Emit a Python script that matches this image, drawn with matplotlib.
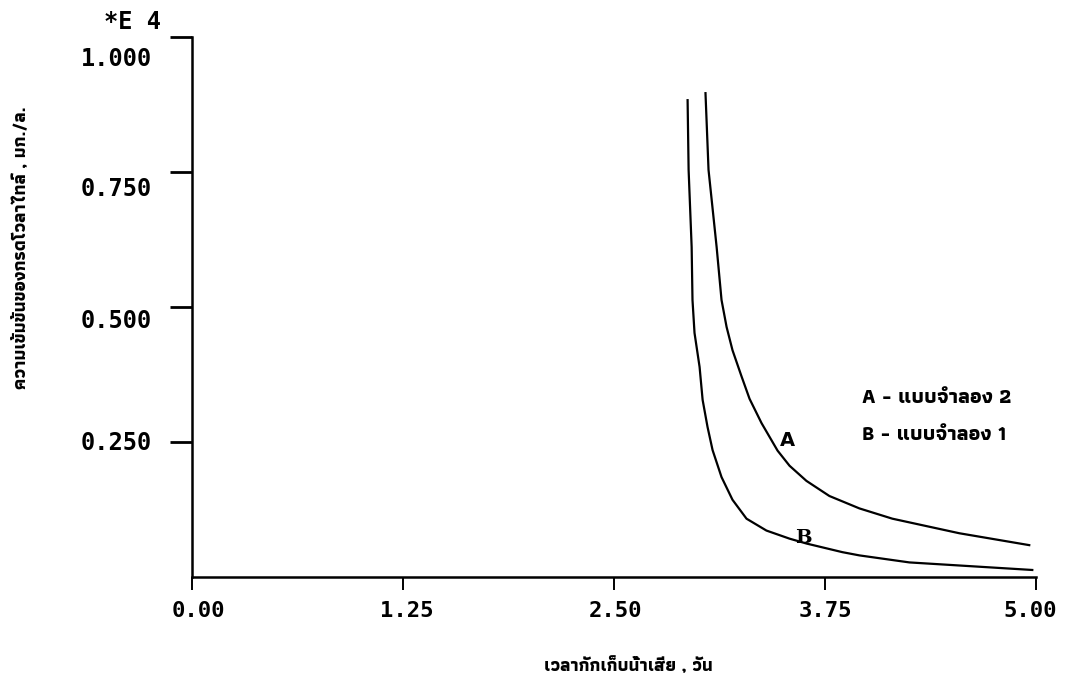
import matplotlib
matplotlib.use("Agg")
import matplotlib.pyplot as plt
from matplotlib.transforms import ScaledTranslation

# ---- data ----
x_ticks = [0.00, 1.25, 2.50, 3.75, 5.00]
x_tick_labels = ["0.00", "1.25", "2.50", "3.75", "5.00"]
y_ticks = [0.25, 0.50, 0.75, 1.00]
y_tick_labels = ["0.250", "0.500", "0.750", "1.000"]

# Curve A (แบบจำลอง 2)
a_x = [3.042, 3.060, 3.108, 3.137, 3.167, 3.202, 3.255, 3.303, 3.374, 3.469, 3.540,
       3.640, 3.776, 3.954, 4.149, 4.546, 4.960]
a_y = [0.896, 0.754, 0.611, 0.513, 0.463, 0.420, 0.372, 0.330, 0.285, 0.234, 0.206,
       0.178, 0.150, 0.127, 0.108, 0.081, 0.059]
# Curve B (แบบจำลอง 1)
b_x = [2.936, 2.942, 2.960, 2.965, 2.977, 3.007, 3.025, 3.054, 3.084, 3.137, 3.202,
       3.285, 3.403, 3.540, 3.640, 3.853, 3.954, 4.250, 4.978]
b_y = [0.883, 0.754, 0.611, 0.513, 0.452, 0.389, 0.328, 0.278, 0.235, 0.185, 0.143,
       0.108, 0.086, 0.071, 0.062, 0.046, 0.040, 0.027, 0.013]

legend_lines = ["A - แบบจำลอง 2", "B - แบบจำลอง 1"]
x_label = "เวลากักเก็บน้ำเสีย , วัน"
y_label = "ความเข้มข้นของกรดโวลาไทล์ , มก./ล."
scale_note = "*E 4"

THAI = ["Athiti", "DejaVu Sans"]
MONO = "DejaVu Sans Mono"

fig = plt.figure(figsize=(10.65, 6.92), dpi=100)
ax = fig.add_axes([192 / 1065, 1 - 577 / 692, (1036 - 192) / 1065, (577 - 37) / 692])

ax.plot(a_x, a_y, color="black", lw=1.6)
ax.plot(b_x, b_y, color="black", lw=1.6)

ax.set_xlim(0, 5)
ax.set_ylim(0, 1)
for s in ("top", "right"):
    ax.spines[s].set_visible(False)
for s in ("left", "bottom"):
    ax.spines[s].set_linewidth(1.8)

ax.set_xticks(x_ticks)
ax.set_xticklabels(x_tick_labels, fontfamily=MONO, fontweight="bold", fontsize=16)
ax.set_yticks(y_ticks)
ax.set_yticklabels(y_tick_labels, fontfamily=MONO, fontweight="bold", fontsize=17)
ax.tick_params(axis="x", direction="out", length=9, width=1.4, pad=8)
ax.tick_params(axis="y", direction="out", length=16, width=2, pad=13)

# small vertical shifts like the reference's tick labels
y_shift_px = {0.25: -2, 0.50: 11, 0.75: 14, 1.00: 20}
for tick, val in zip(ax.yaxis.get_major_ticks(), y_ticks):
    lab = tick.label1
    lab.set_transform(lab.get_transform() + ScaledTranslation(0, -y_shift_px[val] / 100, fig.dpi_scale_trans))
x_shift_px = {0.00: 6, 1.25: 4, 2.50: 2, 3.75: 0, 5.00: -6}
for tick, val in zip(ax.xaxis.get_major_ticks(), x_ticks):
    lab = tick.label1
    lab.set_transform(lab.get_transform() + ScaledTranslation(x_shift_px[val] / 100, 0, fig.dpi_scale_trans))

# curve labels
ax.text(3.53, 0.252, "A", fontfamily="DejaVu Sans", fontweight="bold", fontsize=14,
        ha="center", va="center")
ax.text(3.62, 0.072, "B", fontfamily="DejaVu Serif", fontweight="bold", fontsize=14,
        ha="center", va="center")

# legend text
ax.text(3.97, 0.332, legend_lines[0], family=THAI, fontweight="bold", fontsize=15,
        ha="left", va="center")
ax.text(3.97, 0.263, legend_lines[1], family=THAI, fontweight="bold", fontsize=15,
        ha="left", va="center")

fig.text(132 / 1065, 1 - 22 / 692, scale_note, fontfamily=MONO, fontweight="bold",
         fontsize=17, ha="center", va="center")
fig.text(628 / 1065, 1 - 665 / 692, x_label, family=THAI, fontweight="bold", fontsize=13,
         ha="center", va="center")
fig.text(20 / 1065, 1 - 248 / 692, y_label, family=THAI, fontweight="bold", fontsize=13,
         rotation=90, ha="center", va="center")

fig.savefig("out.png", dpi=100)
